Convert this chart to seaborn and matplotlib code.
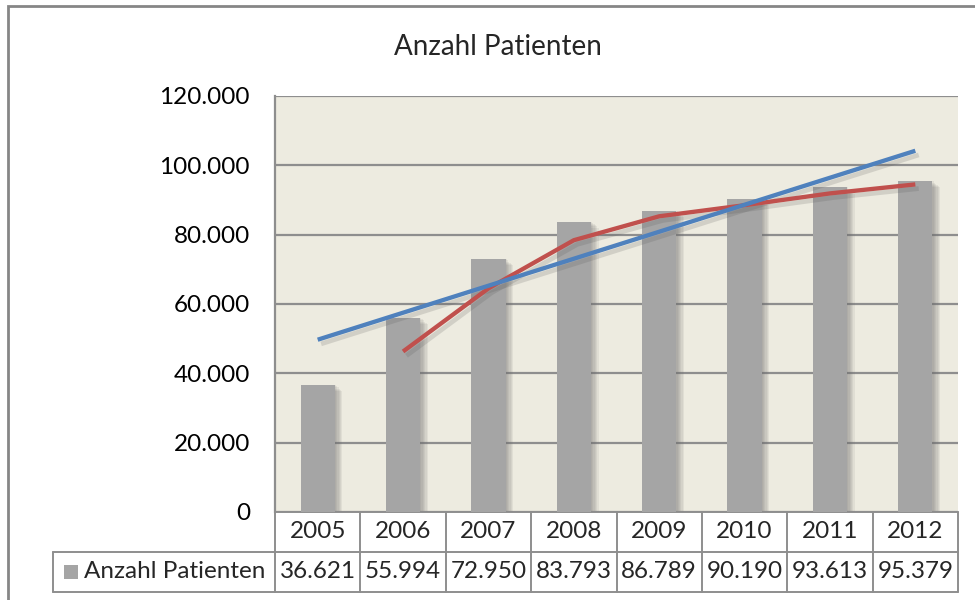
import numpy as np
import pandas as pd
import matplotlib
matplotlib.use("Agg")
import matplotlib.pyplot as plt
import seaborn as sns
from matplotlib.patches import Rectangle
from matplotlib.ticker import FuncFormatter

# data
years = ["2005", "2006", "2007", "2008", "2009", "2010", "2011", "2012"]
patients = [36621, 55994, 72950, 83793, 86789, 90190, 93613, 95379]
# linear trend (start / end) and 2-period moving average as drawn in the chart
trend_ends = [49700, 104200]
moving_avg = [np.nan, 46300, 64500, 78400, 85300, 88500, 91900, 94500]
value_labels = ["36.621", "55.994", "72.950", "83.793", "86.789", "90.190", "93.613", "95.379"]
series_name = "Anzahl Patienten"

sns.set_theme(style="white")
plt.rcParams["font.family"] = ["Lato", "DejaVu Sans"]

bar_col = "#A5A5A5"
grid_col = "#8E8E8E"
bg_col = "#EDEBE0"
fs = 17.5

fig = plt.figure(figsize=(9.75, 6), dpi=100)
ax = fig.add_axes([275 / 975, 88 / 600, 683 / 975, 416 / 600])
ax.set_facecolor(bg_col)

df = pd.DataFrame({"year": years, "n": patients})
pos = np.arange(len(years))

# bar shadow (soft, to the right)
for k in range(6):
    ax.bar(pos + 0.015 * (k + 1), np.array(patients) - 350 * k, width=0.4,
           color="#6E6E6E", alpha=0.10, linewidth=0, zorder=2)
sns.barplot(data=df, x="year", y="n", color=bar_col, width=0.4, saturation=1,
            ax=ax, zorder=3, linewidth=0)

# lines with light shadow
ax.plot([pos[0] + 0.04, pos[-1] + 0.04], [trend_ends[0] - 1200, trend_ends[1] - 1200],
        color="#555555", alpha=0.18, lw=3.4, solid_capstyle="butt", zorder=4)
ax.plot(pos + 0.04, np.array(moving_avg) - 1200, color="#555555", alpha=0.18,
        lw=3.4, solid_capstyle="butt", zorder=4)
ax.plot(pos, moving_avg, color="#C0504D", lw=3.1, solid_capstyle="butt", zorder=5)
ax.plot([pos[0], pos[-1]], trend_ends, color="#4F81BD", lw=3.1,
        solid_capstyle="butt", zorder=6)

ax.set_xlim(-0.5, len(years) - 0.5)
ax.set_ylim(0, 120000)
ax.set_yticks(np.arange(0, 120001, 20000))
ax.yaxis.set_major_formatter(FuncFormatter(lambda v, p: "0" if v == 0 else f"{int(v):,}".replace(",", ".")))
ax.grid(axis="y", color=grid_col, lw=1.6, zorder=1)
ax.set_axisbelow(True)
ax.tick_params(axis="y", length=0, pad=18, labelsize=fs, labelcolor="black")
ax.set_xticks([])
ax.set_xlabel("")
ax.set_ylabel("")
for s in ["top", "right", "bottom"]:
    ax.spines[s].set_visible(False)
ax.spines["left"].set_color(grid_col)
ax.spines["left"].set_linewidth(1.6)

# data table below the plot
tr = ax.get_xaxis_transform()
r1 = -40 / 416
r2 = -80 / 416
left_x = -0.5 - 222 / (683 / 8)
lc = dict(color=grid_col, lw=1.4, clip_on=False, transform=tr)
ax.plot([-0.5, 7.5], [0, 0], **lc)
ax.plot([left_x, 7.5], [r1, r1], **lc)
ax.plot([left_x, 7.5], [r2, r2], **lc)
ax.plot([left_x, left_x], [r1, r2], **lc)
for b in np.arange(-0.5, len(years), 1.0):
    ax.plot([b, b], [0, r2], **lc)
for i, (y, v) in enumerate(zip(years, value_labels)):
    ax.text(i, r1 / 2, y, ha="center", va="center", fontsize=fs, transform=tr)
    ax.text(i, (r1 + r2) / 2, v, ha="center", va="center", fontsize=fs, transform=tr)
ax.add_patch(Rectangle((left_x + 11 / 85.4, (r1 + r2) / 2 - 7 / 416), 14 / 85.4, 14 / 416,
                       transform=tr, color=bar_col, clip_on=False, lw=0))
ax.text(left_x + 31 / 85.4, (r1 + r2) / 2, series_name, ha="left", va="center",
        fontsize=fs, transform=tr)

# title and outer chart frame
fig.text(498 / 975, 1 - 47 / 600, series_name, ha="center", va="center", fontsize=20)
fig.patches.append(Rectangle((8 / 975, -0.1), 1.1, 1 - 6 / 600 + 0.1, transform=fig.transFigure,
                             fill=False, edgecolor="#868686", lw=2))

fig.savefig("out.png", dpi=100)
